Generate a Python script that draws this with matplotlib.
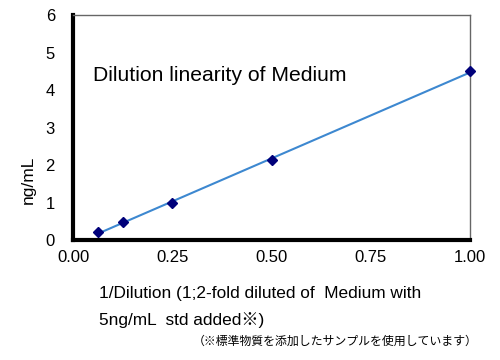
import numpy as np
import matplotlib
matplotlib.use('Agg')
import matplotlib.pyplot as plt

# Data
inv_dilution = [0.0625, 0.125, 0.25, 0.5, 1.0]
conc = [0.21, 0.48, 0.99, 2.13, 4.50]
x_ticks = [0.00, 0.25, 0.50, 0.75, 1.00]
y_ticks = [0, 1, 2, 3, 4, 5, 6]

plt.rcParams['font.family'] = ['Liberation Sans', 'Noto Sans CJK JP', 'DejaVu Sans']

fig = plt.figure(figsize=(5, 3.6), dpi=100)
ax = fig.add_axes([0.146, 0.333, 0.794, 0.625])

# Linear trendline
coef = np.polyfit(inv_dilution, conc, 1)
xs = np.array([min(inv_dilution), max(inv_dilution)])
ax.plot(xs, np.polyval(coef, xs), color='#3d88d0', lw=1.5, zorder=2)
ax.plot(inv_dilution, conc, linestyle='none', marker='D', markersize=5.5,
        color='#00007a', zorder=3, clip_on=False)

ax.set_xlim(0, 1)
ax.set_ylim(0, 6)
ax.set_xticks(x_ticks)
ax.set_xticklabels(['%.2f' % v for v in x_ticks])
ax.set_yticks(y_ticks)
ax.tick_params(length=0, labelsize=12, pad=7)
ax.tick_params(axis='y', pad=13)

for s in ['left', 'bottom']:
    ax.spines[s].set_linewidth(3)
    ax.spines[s].set_color('black')
for s in ['top', 'right']:
    ax.spines[s].set_linewidth(1)
    ax.spines[s].set_color('#666666')

ax.text(0.05, 0.73, 'Dilution linearity of Medium', transform=ax.transAxes,
        fontsize=15.2, va='center', ha='left')

fig.text(0.056, 0.5, 'ng/mL', rotation=90, fontsize=12.5, ha='center', va='center')
fig.text(0.198, 0.147, '1/Dilution (1;2-fold diluted of  Medium with\n5ng/mL  std added\u203b)',
         fontsize=12.4, ha='left', va='center', linespacing=1.8)
fig.text(0.956, 0.05, '\uff08\u203b標準物質を添加したサンプルを使用しています\uff09',
         fontsize=8.6, ha='right', va='center')

fig.savefig('out.png', dpi=100)
